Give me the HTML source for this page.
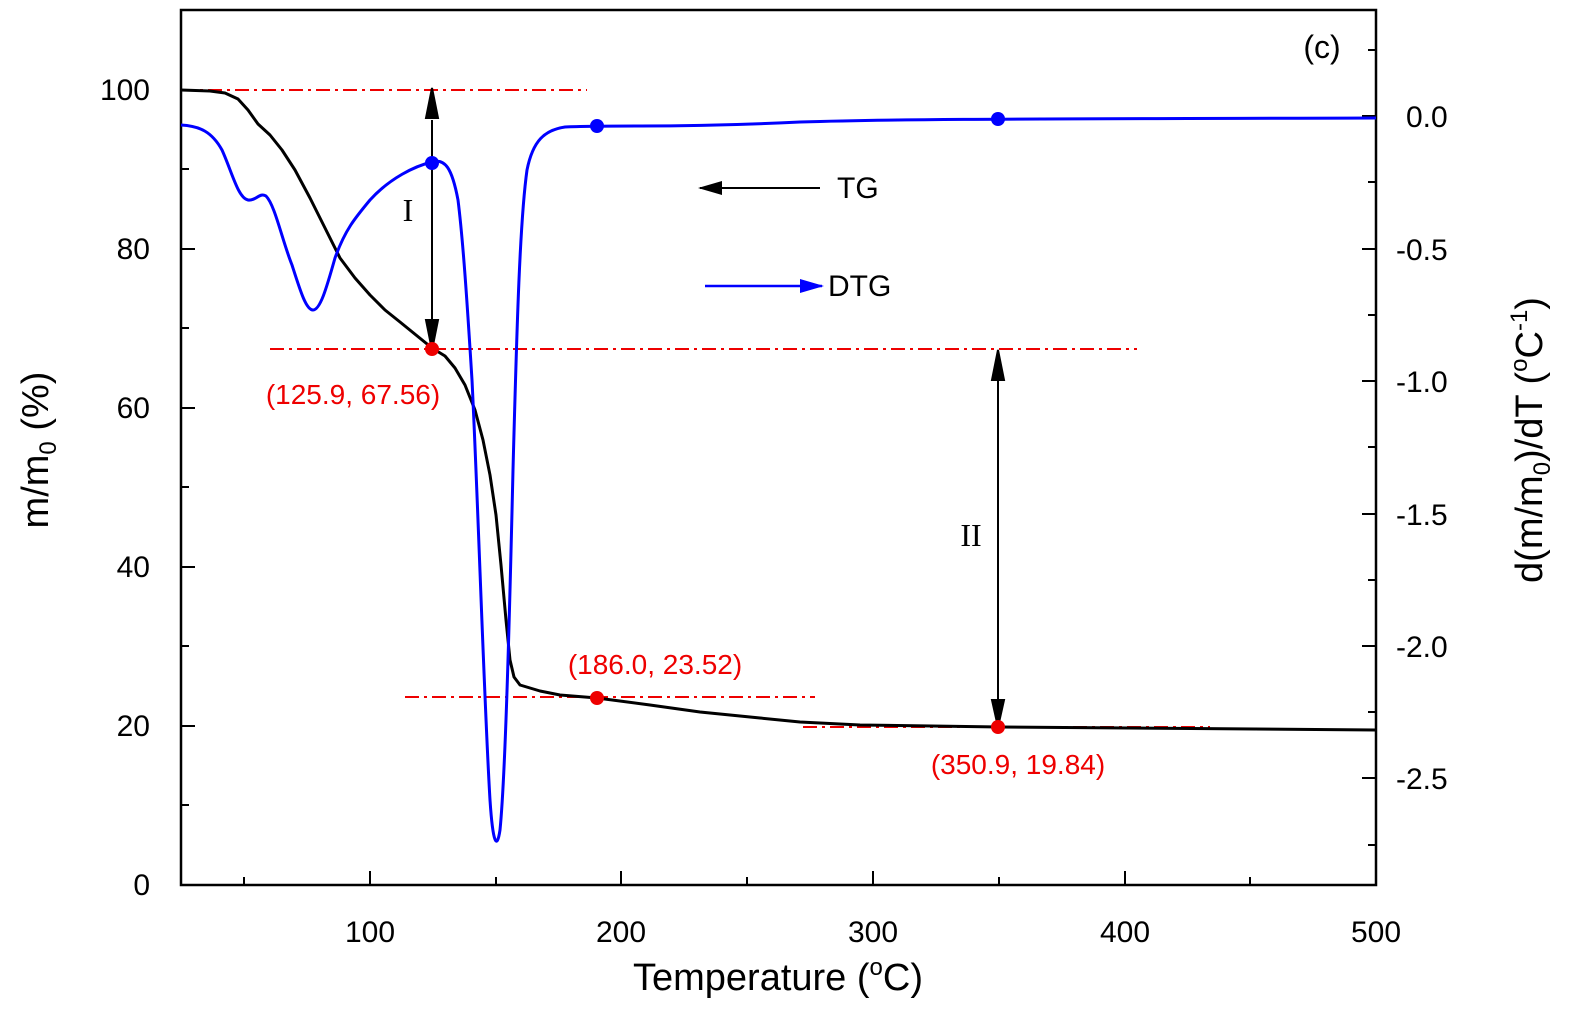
<!DOCTYPE html>
<html><head><meta charset="utf-8"><style>body{margin:0;background:#fff}svg{display:block}text{font-family:"Liberation Sans",sans-serif}</style></head><body>
<svg width="1586" height="1020" viewBox="0 0 1586 1020" xmlns="http://www.w3.org/2000/svg">
<defs>
<marker id="ahb" markerWidth="24" markerHeight="14" refX="22" refY="7" orient="auto" markerUnits="userSpaceOnUse"><path d="M0,0 L24,7 L0,14 z" fill="#00f"/></marker>
<marker id="ahk" markerWidth="24" markerHeight="14" refX="22" refY="7" orient="auto" markerUnits="userSpaceOnUse"><path d="M0,0 L24,7 L0,14 z" fill="#000"/></marker>
</defs>
<rect x="181" y="10" width="1195" height="875" fill="none" stroke="#000" stroke-width="2.5"/>
<g stroke="#000" stroke-width="2">
<line x1="244" y1="885" x2="244" y2="877"/><line x1="370" y1="885" x2="370" y2="871"/><line x1="496" y1="885" x2="496" y2="877"/><line x1="621" y1="885" x2="621" y2="871"/><line x1="747" y1="885" x2="747" y2="877"/><line x1="873" y1="885" x2="873" y2="871"/><line x1="999" y1="885" x2="999" y2="877"/><line x1="1125" y1="885" x2="1125" y2="871"/><line x1="1250" y1="885" x2="1250" y2="877"/>
<line x1="181" y1="805" x2="189" y2="805"/><line x1="181" y1="726" x2="195" y2="726"/><line x1="181" y1="646" x2="189" y2="646"/><line x1="181" y1="567" x2="195" y2="567"/><line x1="181" y1="487" x2="189" y2="487"/><line x1="181" y1="408" x2="195" y2="408"/><line x1="181" y1="328" x2="189" y2="328"/><line x1="181" y1="249" x2="195" y2="249"/><line x1="181" y1="169" x2="189" y2="169"/><line x1="181" y1="90" x2="195" y2="90"/><line x1="181" y1="10" x2="189" y2="10"/>
<line x1="1376" y1="50" x2="1368" y2="50"/><line x1="1376" y1="116" x2="1362" y2="116"/><line x1="1376" y1="182" x2="1368" y2="182"/><line x1="1376" y1="249" x2="1362" y2="249"/><line x1="1376" y1="315" x2="1368" y2="315"/><line x1="1376" y1="381" x2="1362" y2="381"/><line x1="1376" y1="447" x2="1368" y2="447"/><line x1="1376" y1="514" x2="1362" y2="514"/><line x1="1376" y1="580" x2="1368" y2="580"/><line x1="1376" y1="646" x2="1362" y2="646"/><line x1="1376" y1="712" x2="1368" y2="712"/><line x1="1376" y1="778" x2="1362" y2="778"/><line x1="1376" y1="845" x2="1368" y2="845"/>
</g>
<g font-size="30" text-anchor="middle">
<text x="370" y="942">100</text><text x="621" y="942">200</text><text x="873" y="942">300</text><text x="1125" y="942">400</text><text x="1376" y="942">500</text>
</g>
<g font-size="30" text-anchor="end">
<text x="150" y="895">0</text><text x="150" y="736">20</text><text x="150" y="577">40</text><text x="150" y="418">60</text><text x="150" y="259">80</text><text x="150" y="100">100</text>
</g>
<g font-size="30" text-anchor="start">
<text x="1406" y="127">0.0</text><text x="1396" y="260">-0.5</text><text x="1396" y="392">-1.0</text><text x="1396" y="525">-1.5</text><text x="1396" y="657">-2.0</text><text x="1396" y="789">-2.5</text>
</g>
<text x="778" y="990" font-size="38" text-anchor="middle">Temperature (<tspan font-size="24" dy="-15">o</tspan><tspan dy="15">C)</tspan></text>
<text transform="translate(48,450) rotate(-90)" font-size="38" text-anchor="middle">m/m<tspan font-size="24" dy="8">0</tspan><tspan dy="-8"> (%)</tspan></text>
<text transform="translate(1542,440) rotate(-90)" font-size="38" text-anchor="middle">d(m/m<tspan font-size="24" dy="8">0</tspan><tspan dy="-8">)/dT (</tspan><tspan font-size="24" dy="-15">o</tspan><tspan dy="15">C</tspan><tspan font-size="24" dy="-15">-1</tspan><tspan dy="15">)</tspan></text>
<text x="1322" y="58" font-size="32" text-anchor="middle">(c)</text>
<g stroke="#e00" stroke-width="2" stroke-dasharray="14,5,3,5" fill="none">
<line x1="181" y1="90" x2="587" y2="90"/><line x1="270" y1="349" x2="1137" y2="349"/><line x1="405" y1="697" x2="815" y2="697"/><line x1="803" y1="727" x2="1210" y2="727"/>
</g>
<polyline fill="none" stroke="#000" stroke-width="3" stroke-linejoin="round" points="181,90 210,91 225,93 238,99 248,110 258,124 270,135 282,150 295,170 310,198 325,228 340,258 355,278 370,295 385,310 400,322 416,335 432,348 445,356 455,368 465,385 475,410 483,440 490,475 496,515 501,565 506,620 510,660 514,677 520,685 540,691 560,695 597,698 650,705 700,712 760,718 800,722 860,725 1000,727 1376,730"/>
<path fill="none" stroke="#00f" stroke-width="3" stroke-linejoin="round" d="M181,125 C200,126 212,132 222,150 C232,172 238,198 248,200 C256,201 260,192 266,196 C275,205 282,240 292,265 C300,290 306,310 313,310 C320,310 326,290 335,258 C345,230 355,218 370,200 C390,178 415,166 432,162 C445,158 452,168 458,200 C463,240 467,300 472,380 C478,500 484,700 490,800 C493,845 497,850 500,830 C505,780 509,640 513,470 C517,320 520,220 527,170 C533,140 545,130 565,127 C585,126 597,126 640,126 C700,126 740,125 800,122 C900,119 1000,119 1376,118"/>
<g stroke="#000" stroke-width="2" fill="none">
<line x1="432" y1="120" x2="432" y2="320"/><path d="M432,88 L426,118 L438,118 z M432,350 L426,320 L438,320 z" fill="#000"/>
<line x1="998" y1="380" x2="998" y2="700"/><path d="M998,350 L992,380 L1004,380 z M998,727 L992,700 L1004,700 z" fill="#000"/>
<line x1="820" y1="188" x2="700" y2="188" marker-end="url(#ahk)"/>
</g>
<line x1="705" y1="286" x2="822" y2="286" stroke="#00f" stroke-width="2.5" marker-end="url(#ahb)"/>
<text x="837" y="198" font-size="30">TG</text>
<text x="828" y="296" font-size="30">DTG</text>
<text x="408" y="221" font-size="32" text-anchor="middle" style="font-family:'Liberation Serif',serif">I</text>
<text x="971" y="546" font-size="32" text-anchor="middle" style="font-family:'Liberation Serif',serif">II</text>
<g fill="#e00"><circle cx="432" cy="349" r="7"/><circle cx="597" cy="698" r="7"/><circle cx="998" cy="727" r="7"/></g>
<g fill="#00f"><circle cx="432" cy="163" r="7"/><circle cx="597" cy="126" r="7"/><circle cx="998" cy="119" r="7"/></g>
<g fill="#e00" font-size="28" text-anchor="middle">
<text x="353" y="404">(125.9, 67.56)</text><text x="655" y="674">(186.0, 23.52)</text><text x="1018" y="774">(350.9, 19.84)</text>
</g>
</svg>
</body></html>
